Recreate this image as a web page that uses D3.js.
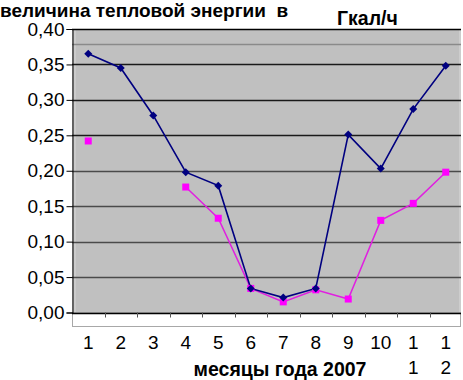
<!DOCTYPE html>
<html><head><meta charset="utf-8">
<script src="https://cdn.jsdelivr.net/npm/d3@7"></script>
<style>body{margin:0;background:#fff}svg{display:block}text{font-family:Arial,"Liberation Sans",sans-serif;white-space:pre}</style>
</head><body><svg id="c" width="463" height="380"></svg>
<script>
const months = ["1","2","3","4","5","6","7","8","9","10","11","12"];
const monthLabels = [["1"],["2"],["3"],["4"],["5"],["6"],["7"],["8"],["9"],["10"],["1","1"],["1","2"]];
const seriesBlue = [0.365,0.345,0.278,0.198,0.179,0.034,0.021,0.034,0.251,0.203,0.287,0.348];
const seriesPink = [0.242,null,null,0.177,0.133,0.034,0.015,0.032,0.019,0.130,0.154,0.198];
const yTicks = [0,0.05,0.10,0.15,0.20,0.25,0.30,0.35,0.40];
const titleText = "величина тепловой энергии  в";
const unitText = "Гкал/ч";
const xTitle = "месяцы года 2007";

const svg = d3.select("#c");
const L=72, R=462, T=29, B=312.5;
const x = d3.scaleBand().domain(months).range([L,R]);
const y = d3.scaleLinear().domain([0,0.4]).range([B,T]);
const fmt = v => d3.format(".2f")(v).replace(".",",");

// plot background
svg.append("rect").attr("x",L).attr("y",T).attr("width",R-L-1).attr("height",B-T).attr("fill","#c0c0c0");
svg.append("rect").attr("x",L+1).attr("y",T).attr("width",3).attr("height",B-T+9).attr("fill","#cbcbcb");
svg.append("rect").attr("x",R-3).attr("y",T).attr("width",2).attr("height",B-T).attr("fill","#cdcdcd");
// floor
svg.append("rect").attr("x",L+0.5).attr("y",B).attr("width",R-L-2).attr("height",14).attr("fill","#fff").attr("stroke","#a8a8a8");
svg.append("line").attr("x1",L).attr("x2",R-1).attr("y1",44.5).attr("y2",44.5).attr("stroke","#8a8a8a").attr("stroke-width",1.5);

// gridlines
svg.append("g").selectAll("line").data(yTicks).join("line")
  .attr("x1",L).attr("x2",R-1).attr("y1",d=>Math.round(y(d))+0.5).attr("y2",d=>Math.round(y(d))+0.5)
  .attr("stroke",d=>d===0||d===0.4?"#000":(d>=0.25?"#1a1a1a":"#4a4a4a")).attr("stroke-width",1.4);

// y axis
const ya = svg.append("g").attr("transform",`translate(${L+0.5},0)`)
  .call(d3.axisLeft(y).tickValues(yTicks).tickFormat(fmt).tickSize(6).tickPadding(2));
ya.select(".domain").attr("stroke","#000");
ya.selectAll("text").attr("font-size",19).attr("fill","#000").attr("font-family","Arial, 'Liberation Sans', sans-serif");

// x axis ticks at band boundaries
const bounds = months.slice(1).map(m=>x(m));
svg.append("g").selectAll("line").data(bounds).join("line")
  .attr("x1",d=>Math.round(d)+0.5).attr("x2",d=>Math.round(d)+0.5).attr("y1",B).attr("y2",B+5)
  .attr("stroke","#555");
// x labels
const xl = svg.append("g");
months.forEach((m,i)=>{
  monthLabels[i].forEach((s,j)=>{
    xl.append("text").attr("x",x(m)+x.bandwidth()/2).attr("y",349+j*25)
      .attr("text-anchor","middle").attr("font-size",19).text(s);
  });
});

// lines
const line = d3.line().defined(d=>d!=null).x((d,i)=>x(months[i])+x.bandwidth()/2).y(d=>y(d));
svg.append("path").datum(seriesPink).attr("d",line).attr("fill","none").attr("stroke","#e020e0").attr("stroke-width",1.5);
svg.append("path").datum(seriesBlue).attr("d",line).attr("fill","none").attr("stroke","#000080").attr("stroke-width",1.6);
// markers
svg.append("g").selectAll("rect").data(seriesPink.map((v,i)=>[v,i]).filter(d=>d[0]!=null)).join("rect")
  .attr("x",d=>x(months[d[1]])+x.bandwidth()/2-3.5).attr("y",d=>y(d[0])-3.5).attr("width",7).attr("height",7).attr("fill","#ff00ff");
svg.append("g").selectAll("path").data(seriesBlue).join("path")
  .attr("transform",(d,i)=>`translate(${x(months[i])+x.bandwidth()/2},${y(d)})`)
  .attr("d","M0,-4L4,0L0,4L-4,0Z").attr("fill","#000080");

// titles
svg.append("text").attr("x",0).attr("y",16.5).attr("font-size",19).attr("font-weight","bold").attr("xml:space","preserve").text(titleText);
svg.append("text").attr("x",337).attr("y",25).attr("font-size",19.5).attr("font-weight","bold").text(unitText);
svg.append("text").attr("x",280).attr("y",376).attr("text-anchor","middle").attr("font-size",19.5).attr("font-weight","bold").text(xTitle);
</script></body></html>
